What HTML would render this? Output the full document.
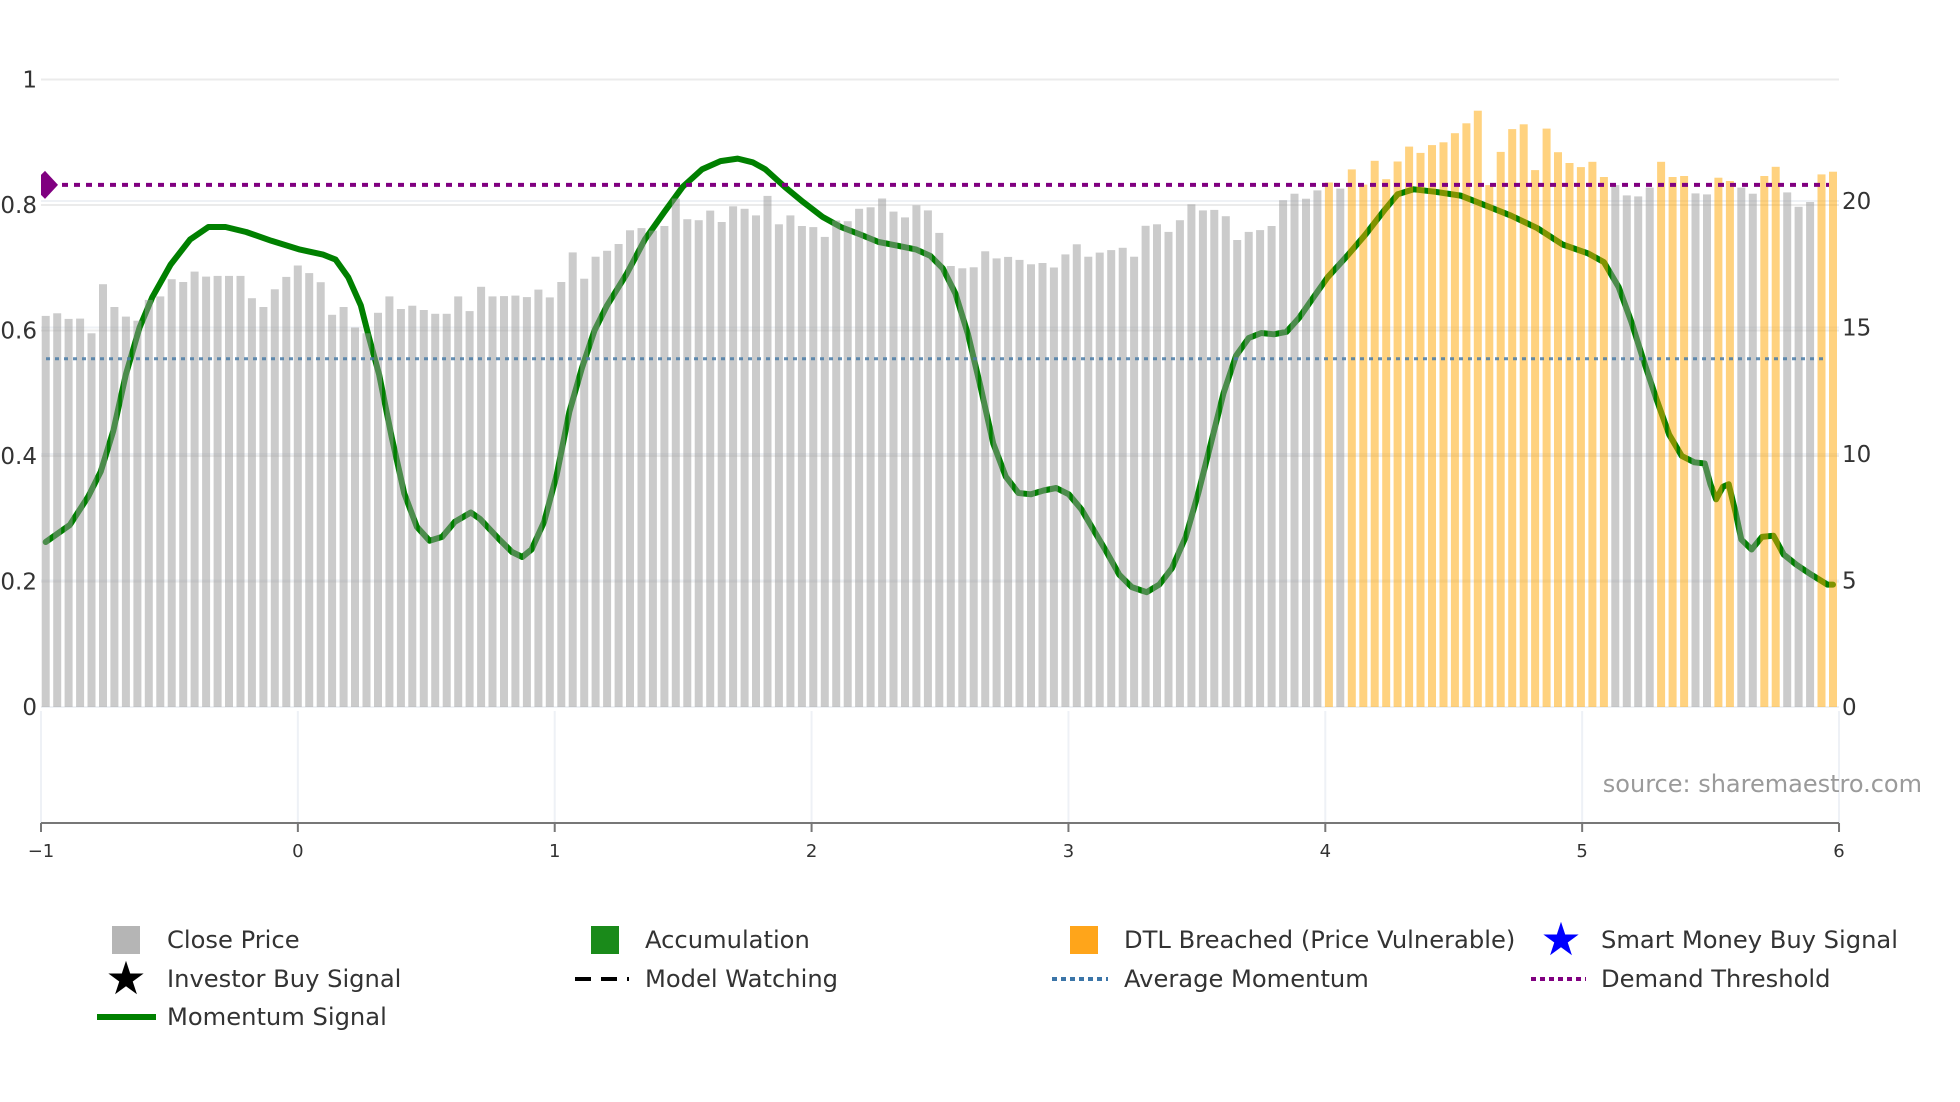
<!DOCTYPE html>
<html><head><meta charset="utf-8"><style>
html,body{margin:0;padding:0;background:#fff;}
svg{display:block;font-family:"DejaVu Sans","Liberation Sans",sans-serif;}
</style></head><body>
<svg id="chart" width="1960" height="1102" viewBox="0 0 1960 1102" xmlns="http://www.w3.org/2000/svg">
<g id="grid"></g>
<g id="line"></g>
<g id="bars"></g>
<g id="refs"></g>
<g id="axes"></g>
<text x="1922" y="792" text-anchor="end" font-size="24" fill="#9a9a9a">source: sharemaestro.com</text>
<g id="legend" font-size="24.2" fill="#333">
  <g><rect x="112" y="926" width="28" height="28" fill="#b5b5b5"/><text x="167" y="948">Close Price</text></g>
  <g><rect x="591" y="926" width="28" height="28" fill="#1a8a1a"/><text x="645" y="948">Accumulation</text></g>
  <g><rect x="1070" y="926" width="28" height="28" fill="#ffa51a"/><text x="1124" y="948">DTL Breached (Price Vulnerable)</text></g>
  <g><text x="1561" y="955" font-size="46" text-anchor="middle" fill="#0000ff">★</text><text x="1601" y="948">Smart Money Buy Signal</text></g>
  <g><text x="126" y="994" font-size="46" text-anchor="middle" fill="#000">★</text><text x="167" y="987">Investor Buy Signal</text></g>
  <g><line x1="575" y1="979" x2="629" y2="979" stroke="#000" stroke-width="4" stroke-dasharray="16,10"/><text x="645" y="987">Model Watching</text></g>
  <g><line x1="1052" y1="979" x2="1108" y2="979" stroke="#3b75a8" stroke-width="4" stroke-dasharray="5,4"/><text x="1124" y="987">Average Momentum</text></g>
  <g><line x1="1531" y1="979" x2="1586" y2="979" stroke="#800080" stroke-width="4" stroke-dasharray="5,4"/><text x="1601" y="987">Demand Threshold</text></g>
  <g><line x1="97" y1="1017" x2="156" y2="1017" stroke="#008000" stroke-width="6"/><text x="167" y="1025">Momentum Signal</text></g>
</g>
</svg>
<script>
const prices = [15.46,15.56,15.34,15.35,14.77,16.71,15.81,15.43,15.27,16.09,16.23,16.91,16.8,17.21,17.01,17.04,17.04,17.04,16.16,15.81,16.51,17.0,17.45,17.15,16.79,15.5,15.81,15.0,14.77,15.58,16.23,15.73,15.86,15.69,15.54,15.54,16.23,15.65,16.61,16.23,
16.24,16.26,16.2,16.5,16.19,16.8,17.97,16.93,17.8,18.03,18.3,18.84,18.93,18.83,19.01,20.1,19.28,19.24,19.62,19.17,19.79,19.69,19.43,20.2,19.08,19.43,19.01,18.97,18.58,19.23,19.2,19.69,19.75,20.1,19.58,19.35,19.83,19.63,18.74,17.43,17.34,17.38,
18.01,17.73,17.79,17.67,17.5,17.55,17.37,17.89,18.29,17.8,17.96,18.06,18.15,17.8,19.02,19.08,18.78,19.24,19.87,19.63,19.65,19.4,18.46,18.78,18.85,19.01,20.03,20.29,20.09,20.42,20.73,20.49,21.25,20.65,21.59,20.86,21.56,22.15,21.9,22.21,22.32,
22.68,23.07,23.57,20.63,21.94,22.84,23.03,21.22,22.86,21.93,21.5,21.34,21.55,20.95,20.63,20.22,20.18,20.53,21.55,20.95,20.99,20.3,20.26,20.92,20.79,20.53,20.29,20.99,21.35,20.34,19.77,19.96,21.05,21.16];
const dtlBreached = [112,114,115,116,117,118,119,120,121,122,123,124,125,126,127,128,129,130,131,132,133,134,135,136,141,142,143,146,147,150,151,155,156];
const momIndex = [0,2.1,3.7,4.8,5.9,7.0,8.2,9.3,10.9,12.6,14.2,15.7,17.5,19.7,22.2,24.2,25.3,26.4,27.5,28.2,29.1,30.2,31.3,32.4,33.5,34.6,35.7,37.1,37.9,39.6,40.7,41.6,42.4,43.5,44.6,45.7,46.8,47.9,49.0,50.7,52.3,54.0,55.6,57.3,58.9,60.4,61.7,62.8,64.5,66.1,67.8,69.4,71.1,72.7,74.4,76.0,77.2,78.3,79.4,80.5,81.6,82.7,83.8,84.9,86.0,87.1,88.2,89.3,90.4,91.5,92.6,93.7,94.8,96.1,97.2,98.3,99.5,100.6,101.7,102.8,103.9,105.0,106.1,107.2,108.3,109.4,110.5,111.9,113.6,115.2,116.9,118.0,119.4,121.3,123.5,125.7,127.9,130.2,132.4,134.6,136.0,137.3,138.4,139.5,140.6,141.7,142.8,143.9,144.8,145.3,145.8,146.4,146.9,147.5,148.0,148.9,149.8,150.8,151.7,152.8,154.1,155.5,156.0];
const momValue = [0.263,0.29,0.335,0.375,0.44,0.53,0.605,0.653,0.705,0.745,0.765,0.765,0.757,0.743,0.729,0.721,0.713,0.685,0.64,0.59,0.53,0.43,0.34,0.287,0.265,0.271,0.295,0.31,0.3,0.267,0.247,0.239,0.251,0.295,0.37,0.47,0.54,0.6,0.64,0.69,0.745,0.789,0.829,0.857,0.87,0.874,0.868,0.857,0.829,0.805,0.781,0.765,0.753,0.741,0.735,0.729,0.719,0.699,0.659,0.594,0.51,0.42,0.367,0.341,0.339,0.345,0.349,0.339,0.315,0.281,0.247,0.211,0.191,0.183,0.195,0.221,0.271,0.341,0.42,0.5,0.56,0.588,0.596,0.594,0.598,0.62,0.649,0.685,0.719,0.753,0.793,0.817,0.825,0.821,0.815,0.799,0.783,0.763,0.737,0.723,0.709,0.669,0.614,0.55,0.49,0.434,0.4,0.39,0.388,0.355,0.331,0.351,0.355,0.31,0.267,0.251,0.271,0.273,0.243,0.227,0.211,0.195,0.195,0.201];
const demandThreshold = 0.832;
const averageMomentum = 0.555;
const leftTicks = [0,0.2,0.4,0.6,0.8,1];
const leftTickLabels = ["0","0.2","0.4","0.6","0.8","1"];
const rightTicks = [0,5,10,15,20];
const rightTickLabels = ["0","5","10","15","20"];
const xTicks = [-1,0,1,2,3,4,5,6];
const xTickLabels = ["\u22121","0","1","2","3","4","5","6"];

const NS="http://www.w3.org/2000/svg";
const Y0=707;
const yLeft=v=>Y0-v*627.5;
const yRight=v=>Y0-v*25.3;
const xBar=k=>45.7+k*11.457;
const xAxis=v=>41+(v+1)*256.86;
function mk(tag,attrs,parent){const e=document.createElementNS(NS,tag);for(const k in attrs)e.setAttribute(k,attrs[k]);parent.appendChild(e);return e;}

const grid=document.getElementById('grid');
leftTicks.forEach((t,i)=>{
  const g=mk('line',{x1:41,x2:1839,y1:yLeft(t),y2:yLeft(t),stroke:'#ebebeb','stroke-width':2},grid);
  
  
});
rightTicks.forEach(t=>{
  const g=mk('line',{x1:41,x2:1839,y1:yRight(t),y2:yRight(t),stroke:'#eef1f5','stroke-width':2},grid);
  
  
});
xTicks.forEach(t=>{
  const g=mk('line',{x1:xAxis(t),x2:xAxis(t),y1:711,y2:823,stroke:'#eef1f6','stroke-width':2},grid);
  
  
});

const lineG=document.getElementById('line');
let d='';
momIndex.forEach((k,i)=>{d+=(i?'L':'M')+xBar(k).toFixed(1)+','+yLeft(momValue[i]).toFixed(1);});
const ml=mk('path',{d:d,fill:'none',stroke:'#008000','stroke-width':6,'stroke-linejoin':'round','stroke-linecap':'round'},lineG);



const barsG=document.getElementById('bars');
prices.forEach((p,k)=>{
  const o=dtlBreached.includes(k);
  const r=mk('rect',{x:(xBar(k)-4).toFixed(1),y:yRight(p).toFixed(1),width:8,height:(Y0-yRight(p)).toFixed(1),fill:o?'#ffa500':'#979797','fill-opacity':0.5},barsG);
  
  
});

const refs=document.getElementById('refs');
const avg=mk('line',{x1:46,x2:1828,y1:yLeft(averageMomentum),y2:yLeft(averageMomentum),stroke:'#4a7ba6','stroke-width':3,'stroke-dasharray':'4,5','stroke-opacity':0.85},refs);


const dem=mk('line',{x1:50,x2:1829,y1:yLeft(demandThreshold),y2:yLeft(demandThreshold),stroke:'#800080','stroke-width':4,'stroke-dasharray':'6,6'},refs);


const dy=yLeft(demandThreshold);
const dm=mk('polygon',{points:`41,${dy-10} 45,${dy-14} 58,${dy} 45,${dy+14} 41,${dy+10}`,fill:'#800080'},refs);



const axes=document.getElementById('axes');
const xl=mk('line',{x1:41,x2:1839,y1:823,y2:823,stroke:'#777','stroke-width':2},axes);


xTicks.forEach((t,i)=>{
  const tk=mk('line',{x1:xAxis(t),x2:xAxis(t),y1:823,y2:832,stroke:'#777','stroke-width':2},axes);
  
  
  const tx=mk('text',{x:xAxis(t),y:857,'text-anchor':'middle','font-size':18,fill:'#333'},axes);
  tx.textContent=xTickLabels[i];
  
  
});
leftTicks.forEach((t,i)=>{
  const tx=mk('text',{x:37,y:yLeft(t)+8,'text-anchor':'end','font-size':23,fill:'#333'},axes);
  tx.textContent=leftTickLabels[i];
  
  
});
rightTicks.forEach((t,i)=>{
  const tx=mk('text',{x:1842,y:yRight(t)+8,'text-anchor':'start','font-size':23,fill:'#333'},axes);
  tx.textContent=rightTickLabels[i];
  
  
});
</script>
</body></html>
